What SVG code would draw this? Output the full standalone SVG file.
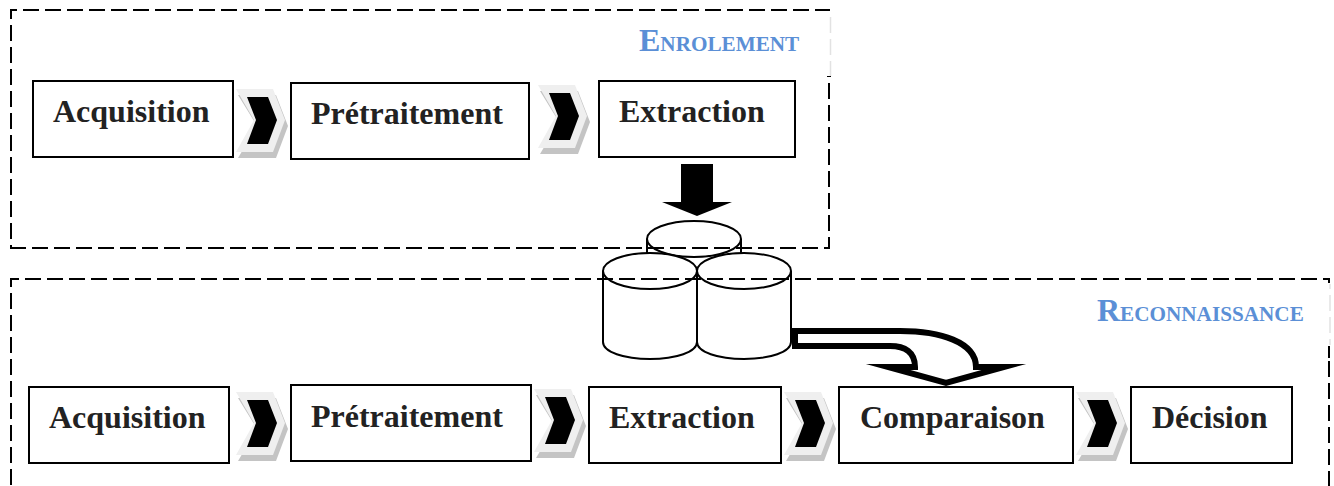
<svg xmlns="http://www.w3.org/2000/svg" width="1334" height="486" viewBox="0 0 1334 486">
<style>
.box{fill:#fff;stroke:#000;stroke-width:2}
.t{font-family:"Liberation Serif","Times New Roman",serif;font-weight:700;font-size:32px;fill:#222}
.h{font-family:"Liberation Serif","Times New Roman",serif;font-weight:700;font-size:21.200px;fill:#5b8fd6}
.h .c{font-size:32px}
.d{fill:none;stroke:#000;stroke-width:2;stroke-dasharray:16 6}
.s{fill:none;stroke:#000;stroke-width:2}
.g{fill:none;stroke:#e2e2e2;stroke-width:1.5;stroke-dasharray:16 6}
.cy{fill:#fff;stroke:#000;stroke-width:2}
</style>
<defs>
<g id="chev">
<polygon points="238,95 276,95 288,126 276,158 238,158 257,126" fill="#c4c4c4"/>
<polygon points="236,89 273,89 285,120 273,152 236,152 254,120" fill="#efefef"/>
<polygon points="247,97 268,97 277,120 268,144 247,144 256,120" fill="#000"/>
</g>
</defs>
<rect width="1334" height="486" fill="#fff"/>
<g id="connectors">
<use href="#chev"/>
<use href="#chev" x="302" y="-4"/>
<use href="#chev" y="303"/>
<use href="#chev" x="298" y="300"/>
<use href="#chev" x="548" y="303"/>
<use href="#chev" x="840" y="303"/>
<polygon id="arrow-down" points="681,164 713,164 713,202 732,202 697,216 662,202 681,202" fill="#000"/>
<path id="arrow-curve" d="M795,331H900C940,331 976,342 976,367H1004L946,383 888,367H915C915,352 905,346 890,346H795Z" fill="#fff" stroke="#000" stroke-width="6" stroke-miterlimit="20"/>
</g>
<g id="node-db">
<path class="cy" d="M647,239V262M741,239V262"/>
<ellipse class="cy" cx="694" cy="239" rx="47" ry="18"/>
<path class="cy" d="M603,271V342C603,352 624,359 650,359S697,352 697,342V271"/>
<ellipse class="cy" cx="650" cy="271" rx="47" ry="18"/>
<path class="cy" d="M697,271V342C697,352 718,359 744,359S791,352 791,342V271"/>
<ellipse class="cy" cx="744" cy="271" rx="47" ry="18"/>
</g>
<g id="frame-enrolement">
<path class="d" d="M11,10H830" stroke-dashoffset="10"/>
<path class="d" d="M11,9V248" stroke-dashoffset="6"/>
<path class="d" d="M10,248H830"/>
<path class="d" d="M829,83V249"/>
<path d="M827,76.500H831" stroke="#000" fill="none"/>
<path class="g" d="M830.500,17V76"/>
<text class="h" x="639" y="51"><tspan class="c">E</tspan>NROLEMENT</text>
</g>
<g id="frame-reconnaissance">
<path class="d" d="M10,279H1330" stroke-dashoffset="7"/>
<path class="d" d="M11,278V486" stroke-dashoffset="7"/>
<path class="s" d="M1329,278V283M1329,346V358"/>
<path class="d" d="M1329,361V486"/>
<path class="g" d="M1330,284V345" stroke-dashoffset="11"/>
<text class="h" x="1097" y="321"><tspan class="c">R</tspan>ECONNAISSANCE</text>
</g>
<g id="e-acquisition"><rect class="box" x="33" y="81" width="200" height="76"/><text class="t" x="53" y="122">Acquisition</text></g>
<g id="e-pretraitement"><rect class="box" x="291" y="83" width="238" height="76"/><text class="t" x="311" y="124">Prétraitement</text></g>
<g id="e-extraction"><rect class="box" x="599" y="81" width="196" height="76"/><text class="t" x="619" y="122">Extraction</text></g>
<g id="r-acquisition"><rect class="box" x="29" y="387" width="200" height="76"/><text class="t" x="49" y="428">Acquisition</text></g>
<g id="r-pretraitement"><rect class="box" x="291" y="385" width="240" height="76"/><text class="t" x="311" y="427">Prétraitement</text></g>
<g id="r-extraction"><rect class="box" x="589" y="387" width="192" height="76"/><text class="t" x="609" y="428">Extraction</text></g>
<g id="r-comparaison"><rect class="box" x="839" y="387" width="234" height="76"/><text class="t" x="860" y="428">Comparaison</text></g>
<g id="r-decision"><rect class="box" x="1131" y="387" width="161" height="76"/><text class="t" x="1152" y="428">Décision</text></g>
</svg>
